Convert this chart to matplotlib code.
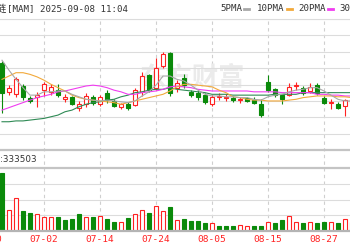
import numpy as np
import matplotlib.pyplot as plt
from matplotlib.lines import Line2D
import matplotlib.transforms as mtransforms

# bar 0 = 06-24; the picture is cut on both sides
tick_pos = [-2, 6, 14, 22, 30, 38, 46]
tick_labels = ['06-20', '07-02', '07-14', '07-24', '08-05', '08-15', '08-27']

opens = [11.05, 10.70, 10.67, 10.77, 10.63, 10.64, 10.72, 10.70, 10.72, 10.61,
         10.64, 10.51, 10.55, 10.64, 10.55, 10.69, 10.59, 10.52, 10.55, 10.54,
         10.70, 10.90, 10.75, 11.01, 11.17, 10.75, 10.87, 10.70, 10.69, 10.66,
         10.55, 10.64, 10.63, 10.63, 10.60, 10.63, 10.60, 10.55, 10.82, 10.73,
         10.66, 10.66, 10.77, 10.75, 10.71, 10.78, 10.63, 10.57, 10.55, 10.53, 10.61]
highs = [11.07, 10.78, 10.88, 10.79, 10.65, 10.70, 10.82, 10.79, 10.79, 10.67,
         10.65, 10.59, 10.69, 10.66, 10.66, 10.72, 10.61, 10.57, 10.58, 10.75,
         10.94, 10.91, 11.11, 11.18, 11.18, 10.84, 10.91, 10.72, 10.72, 10.69,
         10.66, 10.69, 10.67, 10.65, 10.64, 10.64, 10.64, 10.61, 10.90, 10.75,
         10.67, 10.81, 10.82, 10.77, 10.81, 10.81, 10.65, 10.61, 10.58, 10.61, 10.64]
lows = [10.45, 10.66, 10.64, 10.60, 10.57, 10.52, 10.65, 10.66, 10.64, 10.58,
        10.54, 10.47, 10.52, 10.54, 10.53, 10.57, 10.52, 10.49, 10.48, 10.53,
        10.65, 10.70, 10.72, 10.99, 10.65, 10.70, 10.75, 10.64, 10.60, 10.55,
        10.53, 10.60, 10.59, 10.58, 10.57, 10.58, 10.55, 10.40, 10.70, 10.64,
        10.55, 10.65, 10.72, 10.66, 10.69, 10.66, 10.55, 10.49, 10.49, 10.41, 10.54]
closes = [10.69, 10.75, 10.85, 10.64, 10.59, 10.66, 10.79, 10.76, 10.66, 10.64,
          10.55, 10.55, 10.65, 10.57, 10.64, 10.60, 10.53, 10.55, 10.51, 10.72,
          10.89, 10.72, 10.99, 11.15, 10.69, 10.81, 10.78, 10.66, 10.64, 10.58,
          10.64, 10.65, 10.64, 10.60, 10.61, 10.59, 10.57, 10.42, 10.72, 10.66,
          10.61, 10.76, 10.78, 10.69, 10.76, 10.69, 10.57, 10.58, 10.51, 10.60, 10.57]

ma5 = [11.08, 10.96, 10.85, 10.75, 10.66, 10.66, 10.70, 10.70, 10.71, 10.71,
       10.67, 10.64, 10.61, 10.60, 10.59, 10.60, 10.59, 10.58, 10.57, 10.59,
       10.65, 10.70, 10.78, 10.89, 10.89, 10.85, 10.83, 10.78, 10.72, 10.67,
       10.65, 10.65, 10.64, 10.64, 10.63, 10.63, 10.61, 10.60, 10.64, 10.66,
       10.67, 10.70, 10.72, 10.73, 10.75, 10.75, 10.71, 10.66, 10.61, 10.59, 10.59]
ma10 = [10.85, 10.89, 10.93, 10.93, 10.91, 10.88, 10.84, 10.79, 10.75, 10.71,
        10.66, 10.63, 10.61, 10.60, 10.59, 10.58, 10.57, 10.55, 10.57, 10.59,
        10.61, 10.63, 10.65, 10.67, 10.71, 10.76, 10.79, 10.79, 10.78, 10.77,
        10.76, 10.72, 10.69, 10.64, 10.63, 10.61, 10.60, 10.60, 10.59, 10.59,
        10.59, 10.60, 10.61, 10.63, 10.64, 10.65, 10.65, 10.65, 10.64, 10.64, 10.63]
ma20 = [10.48, 10.51, 10.54, 10.57, 10.60, 10.63, 10.65, 10.67, 10.70, 10.71,
        10.73, 10.75, 10.77, 10.78, 10.77, 10.75, 10.72, 10.70, 10.67, 10.67,
        10.69, 10.70, 10.71, 10.73, 10.76, 10.77, 10.76, 10.75, 10.73, 10.72,
        10.71, 10.71, 10.71, 10.71, 10.71, 10.71, 10.70, 10.70, 10.70, 10.70,
        10.69, 10.69, 10.69, 10.69, 10.69, 10.67, 10.67, 10.66, 10.66, 10.65, 10.65]
ma30 = [10.34, 10.34, 10.35, 10.35, 10.36, 10.37, 10.38, 10.40, 10.42, 10.46,
        10.48, 10.52, 10.55, 10.57, 10.58, 10.60, 10.61, 10.64, 10.66, 10.69,
        10.70, 10.72, 10.73, 10.73, 10.75, 10.73, 10.72, 10.71, 10.70, 10.69,
        10.67, 10.67, 10.67, 10.66, 10.66, 10.66, 10.66, 10.66, 10.66, 10.67,
        10.67, 10.67, 10.67, 10.69, 10.69, 10.69, 10.69, 10.69, 10.69, 10.69, 10.69]

volume = [736000, 267000, 419000, 254000, 229000, 216000, 178000, 178000, 178000, 140000,
          152000, 216000, 178000, 178000, 190000, 152000, 114000, 114000, 165000, 216000,
          267000, 229000, 318000, 254000, 305000, 140000, 152000, 127000, 127000, 102000,
          102000, 64000, 64000, 64000, 76000, 64000, 64000, 64000, 114000, 102000,
          140000, 190000, 114000, 102000, 114000, 102000, 114000, 114000, 102000, 152000, 114000]
vol_up = [0, 1, 1, 0, 0, 1, 1, 1, 0, 0, 0, 0, 1, 0, 1, 0, 0, 1, 0, 1,
          1, 0, 1, 1, 0, 1, 0, 0, 0, 0, 1, 0, 0, 0, 1, 1, 0, 0, 1, 0,
          0, 1, 1, 0, 1, 0, 0, 1, 0, 1, 0]

ma_names = ['5PMA', '10PMA', '20PMA', '30PMA']
ma_colors = ['#a8a8a8', '#f2a93b', '#f03cf0', '#2f8a55']

RED = '#ff2222'
GREEN = '#0a8a0a'
GRID = '#dcdcdc'
W, H = 350, 250


def fx(px):
    return px / W


def fy(py):
    return 1 - py / H


x = np.arange(len(closes))
xlim = (-2 / 7, 348 / 7)

fig = plt.figure(figsize=(3.5, 2.5), dpi=100)

# background axes for the dashed date lines (runs through the label strip too)
bg = fig.add_axes([0, fy(231), 1, (231 - 19) / H])
bg.axis('off')
for t in tick_pos[1:]:
    bg.axvline(t, color='#cfcfcf', lw=0.8, ls=(0, (3, 3)))
bg.set_xlim(*xlim)

# price panel
ax = fig.add_axes([0, fy(150), 1, (150 - 19) / H])
ax.set_facecolor('none')
p_lo, p_hi = 10.0, 11.576
ax.set_yticks(np.linspace(p_lo, p_hi, 9))
ax.set_xticks([])
ax.tick_params(left=False, labelleft=False)
ax.grid(axis='y', color=GRID, lw=0.8)
for s in ['left', 'right']:
    ax.spines[s].set_visible(False)
ax.spines['top'].set_color(GRID)
ax.spines['bottom'].set_color('#c4c4c4')
ax.spines['bottom'].set_linewidth(1.6)

ax.text(0.55, 0.55, '东方财富', transform=ax.transAxes, ha='center', va='center',
        fontsize=19, color='#ebebeb', fontweight='bold', style='italic',
        family=['Noto Sans CJK SC'], zorder=1)

o = np.array(opens)
c = np.array(closes)
up = c >= o
cols = np.where(up, RED, GREEN)
body_lo = np.minimum(o, c)
body_hi = np.maximum(o, c)
ax.vlines(x, body_hi, highs, colors=cols, lw=0.8, zorder=2)
ax.vlines(x, lows, body_lo, colors=cols, lw=0.8, zorder=2)
ax.bar(x, np.maximum(body_hi - body_lo, 0.003), bottom=body_lo, width=0.6,
       color=np.where(up, 'white', GREEN), edgecolor=cols, lw=0.8, zorder=2)

for vals, col in zip([ma30, ma20, ma10, ma5], ma_colors[::-1]):
    ax.plot(x, vals, color=col, lw=0.8, zorder=3)
ax.set_xlim(*xlim)
ax.set_ylim(p_lo, p_hi)

# volume panel
vax = fig.add_axes([0, fy(231), 1, (231 - 168) / H])
vax.set_facecolor('none')
vax.set_yticks([200000, 400000, 600000])
vax.tick_params(left=False, labelleft=False)
vax.grid(axis='y', color=GRID, lw=0.8)
for s in ['left', 'right']:
    vax.spines[s].set_visible(False)
vax.spines['top'].set_color('#c4c4c4')
vax.spines['top'].set_linewidth(1.6)
vax.spines['bottom'].set_color('#b4b4b4')
vax.spines['bottom'].set_linewidth(1.6)
vu = np.array(vol_up).astype(bool)
vax.bar(x, volume, width=0.62, color=np.where(vu, 'white', GREEN),
        edgecolor=np.where(vu, RED, GREEN), lw=0.8, zorder=2)
vax.set_xticks(tick_pos[1:])
vax.set_xticklabels(tick_labels[1:], color=RED, fontsize=6.8, family='DejaVu Sans Mono')
vax.tick_params(axis='x', length=0, pad=3)
vax.set_xlim(*xlim)
vax.set_ylim(0, 800000)

# first date label sits mostly outside the visible window
trans = mtransforms.blended_transform_factory(vax.transData, fig.transFigure)
vax.text(tick_pos[0], fy(240), tick_labels[0], transform=trans, color=RED, fontsize=6.8,
         family='DejaVu Sans Mono', ha='center', va='center', clip_on=False)

fig.text(fx(0), fy(160), ':333503', fontsize=6.3, color='#333333', va='center', ha='left')

# header line
fig.text(fx(-4.5), fy(8.5), '链', fontsize=7.3, color='#333333', va='center', ha='left',
         family=['Noto Sans CJK SC'])
fig.text(fx(7), fy(8.5), '[MAM] 2025-09-08 11:04', fontsize=6.6, color='#333333',
         va='center', ha='left', family='DejaVu Sans Mono')

leg_x = [220, 257, 298, 339]
for name, col, lx in zip(ma_names, ma_colors, leg_x):
    fig.text(fx(lx), fy(8.5), name, fontsize=6.6, color='#333333', va='center',
             ha='left', family='DejaVu Sans Mono')
    mx = lx + len(name) * 5.5 + 2
    fig.add_artist(Line2D([fx(mx), fx(mx + 5)], [fy(9), fy(9)], color=col, lw=2,
                          transform=fig.transFigure))

fig.savefig('out.png', dpi=100, facecolor='white')
